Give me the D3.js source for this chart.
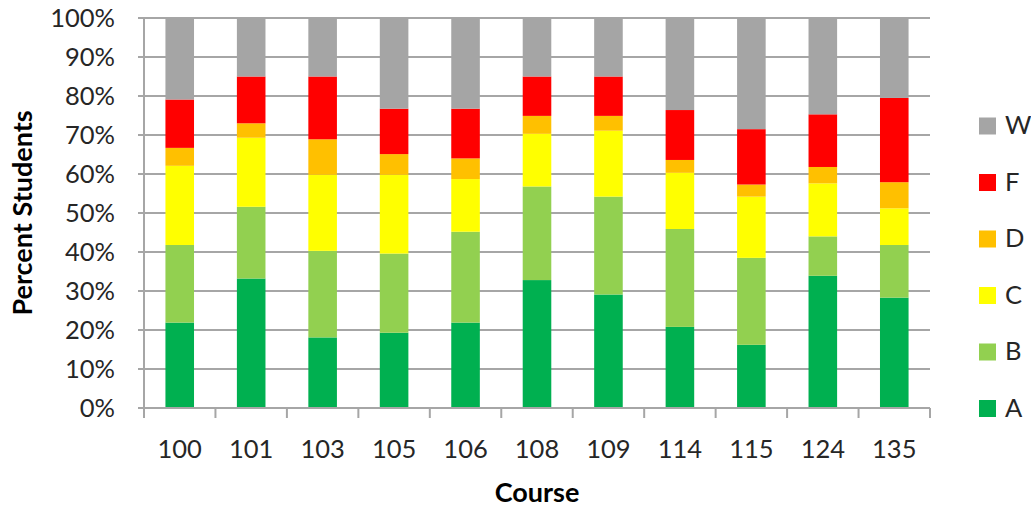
<!DOCTYPE html>
<html><head><meta charset="utf-8">
<script src="https://cdn.jsdelivr.net/npm/d3@7"></script>
<style>html,body{margin:0;padding:0;background:#fff;} svg{display:block;}</style>
</head><body>
<svg id="chart" width="1031" height="508"></svg>
<script>
const courses = ["100","101","103","105","106","108","109","114","115","124","135"];
const grades = ["A","B","C","D","F","W"];
const gradeA = [21.9, 33.2, 18.1, 19.3, 21.9, 32.8, 29.1, 20.8, 16.2, 33.9, 28.3];
const gradeB = [19.9, 18.4, 22.2, 20.3, 23.3, 24.0, 25.1, 25.1, 22.3, 10.1, 13.5];
const gradeC = [20.3, 17.7, 19.5, 20.2, 13.5, 13.5, 16.9, 14.4, 15.7, 13.6, 9.4];
const gradeD = [4.6, 3.7, 9.1, 5.3, 5.3, 4.6, 3.8, 3.3, 3.1, 4.2, 6.7];
const gradeF = [12.4, 12.0, 16.1, 11.65, 12.75, 10.1, 10.1, 12.8, 14.2, 13.5, 21.6];
const gradeW = [20.9, 15.0, 15.0, 23.25, 23.25, 15.0, 15.0, 23.6, 28.5, 24.7, 20.5];
const yTicks = [0,10,20,30,40,50,60,70,80,90,100];
const colors = ["#00B050","#92D050","#FFFF00","#FFC000","#FF0000","#A5A5A5"];

const seriesValues = [gradeA, gradeB, gradeC, gradeD, gradeF, gradeW];
const rows = courses.map((c,i)=>{
  const r = {course:c};
  grades.forEach((g,k)=>{ r[g] = seriesValues[k][i]; });
  return r;
});

const svg = d3.select("#chart");
const mLeft = 144, mRight = 930, mTop = 18, mBottom = 408;
const font = "Lato, 'Open Sans', sans-serif";
const x = d3.scaleBand().domain(courses).range([mLeft,mRight]).paddingInner(0.6).paddingOuter(0.3);
const y = d3.scaleLinear().domain([0,100]).range([mBottom,mTop]);
const gridColor = "#a6a6a6";

// gridlines
svg.append("g").selectAll("line").data(yTicks).join("line")
  .attr("x1", mLeft-6).attr("x2", mRight)
  .attr("y1", d=>y(d)).attr("y2", d=>y(d))
  .attr("stroke", gridColor).attr("stroke-width", 2);

// stacked bars
const stack = d3.stack().keys(grades)(rows);
const color = d3.scaleOrdinal().domain(grades).range(colors);
svg.append("g").selectAll("g").data(stack).join("g")
  .attr("fill", d=>color(d.key))
  .selectAll("rect").data(d=>d).join("rect")
  .attr("x", d=>x(d.data.course))
  .attr("width", x.bandwidth())
  .attr("y", d=>y(d[1]))
  .attr("height", d=>y(d[0])-y(d[1]));

// y axis line
svg.append("line").attr("x1",mLeft).attr("x2",mLeft).attr("y1",mTop).attr("y2",mBottom+10)
  .attr("stroke",gridColor).attr("stroke-width",2);
// x axis line
svg.append("line").attr("x1",mLeft).attr("x2",mRight).attr("y1",mBottom).attr("y2",mBottom)
  .attr("stroke",gridColor).attr("stroke-width",2);
// x ticks at category boundaries
const bounds = courses.map(c=>x(c) - x.step()*0.3).concat([mRight]);
svg.append("g").selectAll("line").data(bounds).join("line")
  .attr("x1",d=>d).attr("x2",d=>d).attr("y1",mBottom).attr("y2",mBottom+10)
  .attr("stroke",gridColor).attr("stroke-width",2);

// y tick labels
svg.append("g").selectAll("text").data(yTicks).join("text")
  .attr("x", 115).attr("y", d=>y(d)).attr("dy","0.35em")
  .attr("text-anchor","end").attr("font-family",font).attr("font-size",25.5)
  .attr("fill","#262626").text(d=>d+"%");

// x tick labels
svg.append("g").selectAll("text").data(courses).join("text")
  .attr("x", d=>x(d)+x.bandwidth()/2).attr("y", 458)
  .attr("text-anchor","middle").attr("font-family",font).attr("font-size",25.5)
  .attr("fill","#262626").text(d=>d);

// axis titles
svg.append("text").attr("x",(mLeft+mRight)/2).attr("y",502).attr("text-anchor","middle")
  .attr("font-family",font).attr("font-size",27).attr("font-weight","bold").attr("fill","#000").text("Course");
svg.append("text").attr("transform",`translate(32,${(mTop+mBottom)/2}) rotate(-90)`)
  .attr("text-anchor","middle").attr("font-family",font).attr("font-size",27).attr("font-weight","bold")
  .attr("fill","#000").text("Percent Students");

// legend (W on top, A at bottom)
const legendOrder = grades.slice().reverse();
const lg = svg.append("g").selectAll("g").data(legendOrder).join("g")
  .attr("transform",(d,i)=>`translate(979,${408 - (legendOrder.length-1-i)*56.5})`);
lg.append("rect").attr("x",0).attr("y",-8).attr("width",17).attr("height",17).attr("fill",d=>color(d));
lg.append("text").attr("x",26).attr("y",0).attr("dy","0.35em")
  .attr("font-family",font).attr("font-size",25.5).attr("fill","#262626").text(d=>d);
</script>
</body></html>
